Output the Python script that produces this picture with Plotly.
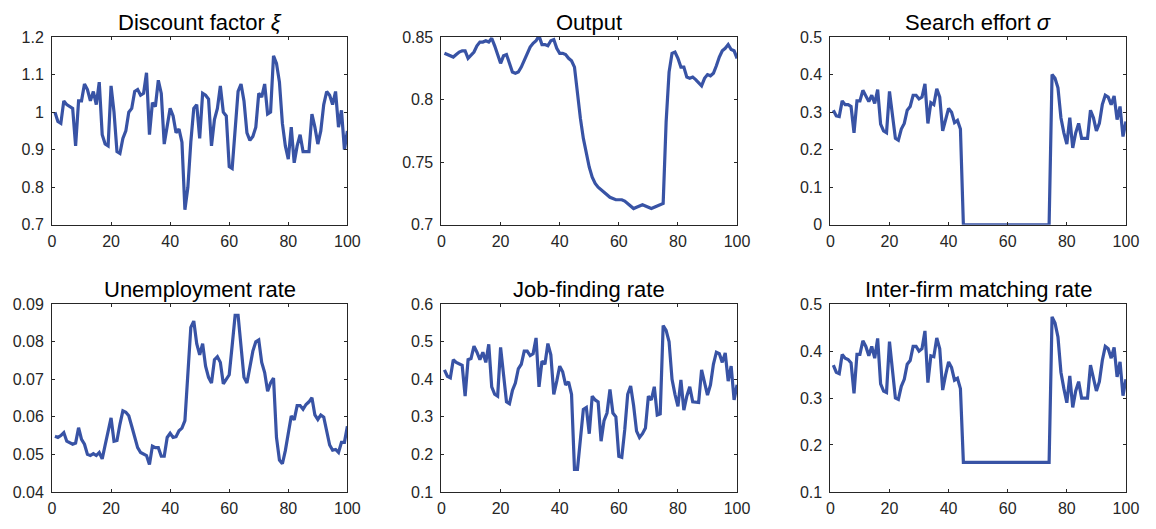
import plotly.graph_objects as go

t = list(range(1, 101))

discount = [1.0, 0.975, 0.97, 1.03, 1.02, 1.015, 1.01, 0.91, 1.03, 1.03,
            1.075, 1.06, 1.03, 1.055, 1.02, 1.08, 0.94, 0.915, 0.91, 1.07,
            1.0, 0.895, 0.89, 0.93, 0.95, 1.0, 1.01, 1.055, 1.06, 1.045,
            1.05, 1.105, 0.94, 1.025, 1.015, 1.085, 1.05, 0.915, 0.96, 1.01,
            0.99, 0.945, 0.955, 0.92, 0.74, 0.8, 0.92, 1.01, 1.02, 0.93,
            1.05, 1.045, 1.035, 0.91, 0.98, 1.01, 1.07, 1.0, 0.99, 0.855,
            0.85, 0.95, 1.055, 1.075, 1.03, 0.945, 0.925, 0.935, 0.96, 1.05,
            1.04, 1.075, 0.995, 1.0, 1.15, 1.13, 1.08, 0.97, 0.91, 0.875,
            0.96, 0.865, 0.91, 0.94, 0.895, 0.895, 0.895, 0.995, 0.96, 0.915,
            0.95, 1.02, 1.055, 1.045, 1.02, 1.055, 0.96, 1.005, 0.9, 0.95]

output = [0.837, 0.836, 0.835, 0.834, 0.836, 0.838, 0.839, 0.839, 0.833, 0.836,
          0.838, 0.843, 0.846, 0.846, 0.847, 0.846, 0.849, 0.843, 0.835, 0.829,
          0.835, 0.836, 0.829, 0.822, 0.821, 0.822, 0.826, 0.831, 0.837, 0.842,
          0.845, 0.847, 0.851, 0.844, 0.844, 0.843, 0.847, 0.848, 0.841, 0.837,
          0.837, 0.836, 0.833, 0.831, 0.826, 0.805, 0.785, 0.769, 0.756, 0.746,
          0.738, 0.733, 0.730, 0.728, 0.726, 0.724, 0.722, 0.721, 0.720, 0.720,
          0.720, 0.719, 0.717, 0.715, 0.713, 0.714, 0.715, 0.716, 0.715, 0.714,
          0.713, 0.714, 0.715, 0.716, 0.717, 0.782, 0.822, 0.837, 0.838, 0.833,
          0.826, 0.826, 0.818, 0.817, 0.818, 0.816, 0.813, 0.811, 0.817, 0.820,
          0.819, 0.821, 0.827, 0.834, 0.839, 0.841, 0.844, 0.840, 0.839, 0.833]

search = [0.305, 0.29, 0.288, 0.33, 0.32, 0.32, 0.315, 0.245, 0.33, 0.33,
          0.358, 0.345, 0.328, 0.345, 0.323, 0.36, 0.268, 0.25, 0.245, 0.355,
          0.3, 0.23, 0.225, 0.255, 0.27, 0.305, 0.315, 0.345, 0.345, 0.335,
          0.34, 0.375, 0.27, 0.325, 0.32, 0.362, 0.34, 0.25, 0.28, 0.31,
          0.3, 0.272, 0.278, 0.255, 0.0, 0.0, 0.0, 0.0, 0.0, 0.0,
          0.0, 0.0, 0.0, 0.0, 0.0, 0.0, 0.0, 0.0, 0.0, 0.0,
          0.0, 0.0, 0.0, 0.0, 0.0, 0.0, 0.0, 0.0, 0.0, 0.0,
          0.0, 0.0, 0.0, 0.0, 0.40, 0.39, 0.365, 0.285, 0.245, 0.215,
          0.285, 0.205, 0.245, 0.27, 0.23, 0.23, 0.23, 0.305, 0.285, 0.25,
          0.27, 0.32, 0.345, 0.34, 0.32, 0.343, 0.28, 0.315, 0.235, 0.275]

unemp = [0.0548, 0.0545, 0.055, 0.0558, 0.0535, 0.053, 0.0527, 0.053, 0.0571, 0.054,
         0.0527, 0.05, 0.0497, 0.0502, 0.0497, 0.0505, 0.0488, 0.0525, 0.0565, 0.0597,
         0.0535, 0.0537, 0.058, 0.0616, 0.0612, 0.0603, 0.0575, 0.055, 0.0518, 0.0505,
         0.0502, 0.0497, 0.0473, 0.0522, 0.0518, 0.0518, 0.0495, 0.0495, 0.0545, 0.0556,
         0.0545, 0.0547, 0.0563, 0.057, 0.059, 0.072, 0.0838, 0.0855, 0.0795, 0.0765,
         0.0795, 0.0735, 0.0705, 0.069, 0.0752, 0.076, 0.0745, 0.0688, 0.07, 0.0712,
         0.079, 0.087, 0.087, 0.079, 0.0705, 0.069, 0.073, 0.0775, 0.08, 0.0805,
         0.0745, 0.0718, 0.0668, 0.069, 0.0703, 0.0545, 0.0485, 0.0475, 0.051, 0.0555,
         0.0602, 0.0592, 0.063, 0.063, 0.062, 0.0633, 0.064, 0.0651, 0.0605, 0.0593,
         0.0605, 0.0599, 0.0562, 0.0525, 0.0511, 0.0513, 0.0505, 0.0532, 0.0532, 0.0575]

jobfind = [0.425, 0.408, 0.404, 0.452, 0.445, 0.44, 0.437, 0.355, 0.452, 0.455,
           0.488, 0.472, 0.452, 0.472, 0.445, 0.493, 0.38, 0.36, 0.355, 0.485,
           0.415, 0.34, 0.335, 0.37, 0.39, 0.428, 0.44, 0.475, 0.475, 0.463,
           0.468, 0.51, 0.38, 0.448, 0.44, 0.495, 0.465, 0.36, 0.395, 0.435,
           0.42, 0.385, 0.393, 0.36, 0.16, 0.16, 0.24, 0.32, 0.325, 0.255,
           0.355, 0.345, 0.34, 0.235, 0.29, 0.31, 0.373, 0.31, 0.3, 0.195,
           0.192, 0.265, 0.36, 0.382, 0.33, 0.262, 0.245, 0.255, 0.27, 0.355,
           0.345, 0.38, 0.305, 0.308, 0.543, 0.53, 0.5, 0.4, 0.36, 0.328,
           0.398, 0.318, 0.355, 0.38, 0.34, 0.34, 0.338, 0.425, 0.395, 0.358,
           0.385, 0.44, 0.472, 0.468, 0.445, 0.47, 0.395, 0.435, 0.345, 0.385]

interfirm = [0.37, 0.355, 0.352, 0.393, 0.385, 0.382, 0.375, 0.31, 0.393, 0.393,
             0.422, 0.41, 0.39, 0.41, 0.385, 0.427, 0.33, 0.315, 0.312, 0.42,
             0.36, 0.3, 0.297, 0.325, 0.34, 0.372, 0.38, 0.41, 0.41, 0.4,
             0.405, 0.443, 0.333, 0.39, 0.388, 0.428, 0.405, 0.317, 0.35, 0.377,
             0.365, 0.338, 0.342, 0.32, 0.163, 0.163, 0.163, 0.163, 0.163, 0.163,
             0.163, 0.163, 0.163, 0.163, 0.163, 0.163, 0.163, 0.163, 0.163, 0.163,
             0.163, 0.163, 0.163, 0.163, 0.163, 0.163, 0.163, 0.163, 0.163, 0.163,
             0.163, 0.163, 0.163, 0.163, 0.473, 0.46, 0.43, 0.355, 0.32, 0.29,
             0.347, 0.28, 0.315, 0.335, 0.3, 0.3, 0.3, 0.37, 0.345, 0.315,
             0.335, 0.38, 0.41, 0.405, 0.385, 0.408, 0.345, 0.377, 0.305, 0.34]

titles = ["Discount factor <i>ξ</i>", "Output", "Search effort <i>σ</i>",
          "Unemployment rate", "Job-finding rate", "Inter-firm matching rate"]
series = [discount, output, search, unemp, jobfind, interfirm]
yranges = [(0.7, 1.2), (0.7, 0.85), (0.0, 0.5), (0.04, 0.09), (0.1, 0.6), (0.1, 0.5)]
yticks = [
    ([0.7, 0.8, 0.9, 1.0, 1.1, 1.2], ["0.7", "0.8", "0.9", "1", "1.1", "1.2"]),
    ([0.7, 0.75, 0.8, 0.85], ["0.7", "0.75", "0.8", "0.85"]),
    ([0, 0.1, 0.2, 0.3, 0.4, 0.5], ["0", "0.1", "0.2", "0.3", "0.4", "0.5"]),
    ([0.04, 0.05, 0.06, 0.07, 0.08, 0.09], ["0.04", "0.05", "0.06", "0.07", "0.08", "0.09"]),
    ([0.1, 0.2, 0.3, 0.4, 0.5, 0.6], ["0.1", "0.2", "0.3", "0.4", "0.5", "0.6"]),
    ([0.1, 0.2, 0.3, 0.4, 0.5], ["0.1", "0.2", "0.3", "0.4", "0.5"]),
]
xticks = [0, 20, 40, 60, 80, 100]

W, H = 1156, 529
xdoms = [(48.7, 348.5), (444.0, 744.0), (838.7, 1138.7)]
ydoms = [(30.0, 224.0), (306.0, 500.0)]

axis_color = "#262626"
line_color = "#3853a5"

fig = go.Figure()
layout = dict(width=W, height=H, margin=dict(l=0, r=0, t=0, b=0),
              paper_bgcolor="white", plot_bgcolor="white", showlegend=False,
              font=dict(family="Liberation Sans, Arial, sans-serif", color=axis_color, size=16))
annotations = []
for i in range(6):
    r, c = divmod(i, 3)
    n = i + 1
    xa = "x" if n == 1 else f"x{n}"
    ya = "y" if n == 1 else f"y{n}"
    fig.add_trace(go.Scatter(x=t, y=series[i], mode="lines",
                             line=dict(color=line_color, width=3.2),
                             xaxis=xa, yaxis=ya))
    x0, x1 = xdoms[c]
    y0, y1 = ydoms[r]
    xd = [x0 / W, x1 / W]
    yd = [1 - y1 / H, 1 - y0 / H]
    common = dict(showgrid=False, zeroline=False, showline=True, mirror="ticks",
                  linecolor=axis_color, linewidth=1, ticks="inside", ticklen=3,
                  tickcolor=axis_color, tickfont=dict(size=16, color=axis_color))
    layout["xaxis" if n == 1 else f"xaxis{n}"] = dict(
        domain=xd, range=[0, 100], tickvals=xticks, ticktext=[str(v) for v in xticks],
        anchor=ya, ticklabelstandoff=2, **common)
    layout["yaxis" if n == 1 else f"yaxis{n}"] = dict(
        domain=yd, range=list(yranges[i]), tickvals=yticks[i][0], ticktext=yticks[i][1],
        anchor=xa, ticklabelstandoff=4, **common)
    annotations.append(dict(text=titles[i], x=(xd[0] + xd[1]) / 2, y=yd[1],
                            xref="paper", yref="paper", xanchor="center", yanchor="bottom",
                            yshift=0, showarrow=False,
                            font=dict(size=22, color="#000000")))
layout["annotations"] = annotations
fig.update_layout(**layout)
fig.write_html("out.html")
